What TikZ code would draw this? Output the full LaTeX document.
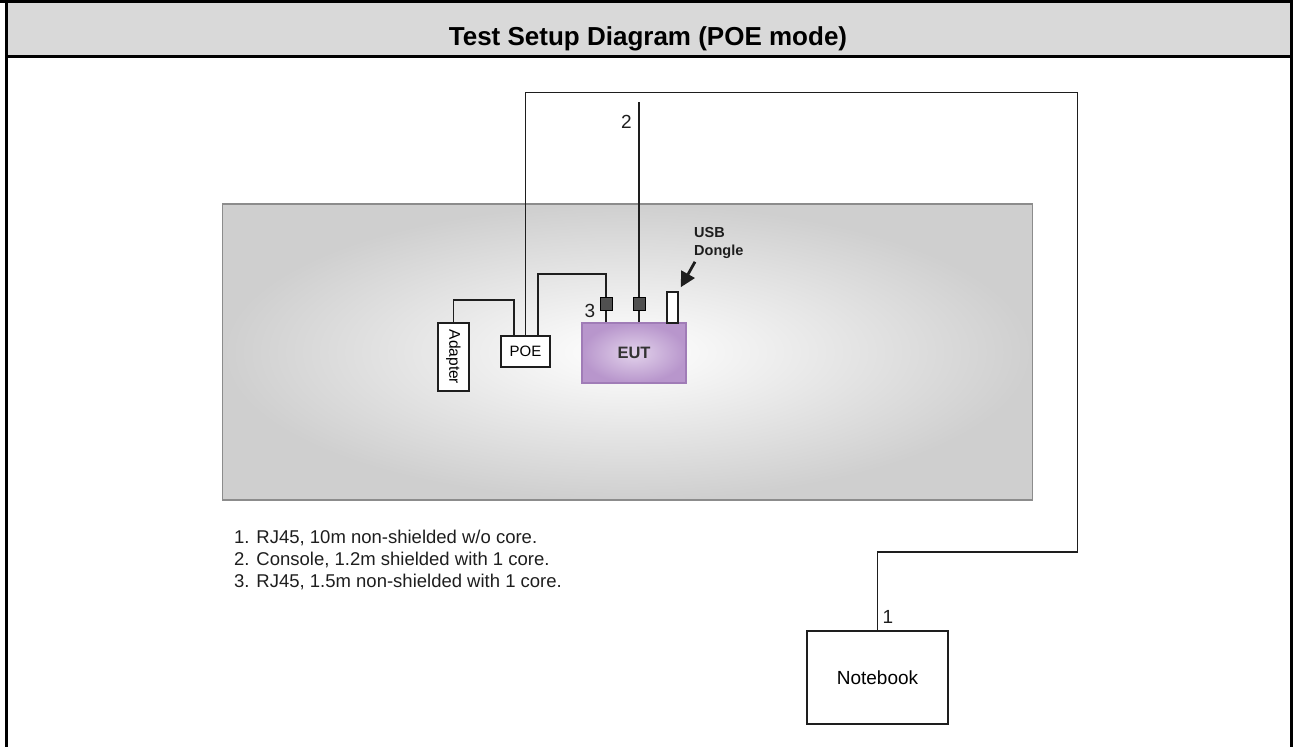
\documentclass[tikz,border=0pt]{standalone}
\usepackage{fontspec}
\setmainfont{Liberation Sans}
\usetikzlibrary{arrows.meta}

\definecolor{bandgray}{HTML}{D9D9D9}
\definecolor{tablegray}{HTML}{CFCFCF}
\definecolor{tableedge}{HTML}{8C8C8C}
\definecolor{eutlight}{HTML}{E2D2EB}
\definecolor{eutdark}{HTML}{B896CC}
\definecolor{eutedge}{HTML}{A07CB7}
\definecolor{euttext}{HTML}{333333}
\definecolor{jackgray}{HTML}{505050}
\definecolor{cablecol}{HTML}{1E1E1E}

\tikzset{
  box/.style={draw=cablecol, line width=1.5bp, fill=white, inner sep=0pt},
  eutbox/.style={draw=eutedge, line width=1.3bp, inner color=eutlight, outer color=eutdark,
    minimum width=104bp, minimum height=60bp, text=euttext,
    font=\fontsize{16.5bp}{16.5bp}\selectfont\bfseries},
  cable/.style={draw=cablecol, line width=1.8bp},
  jack/.style={draw=black, fill=jackgray, line width=1bp, minimum width=12bp,
    minimum height=13bp, inner sep=0pt},
  cablenum/.style={font=\fontsize{19bp}{19bp}\selectfont, text=cablecol, inner sep=0pt},
  pointer/.style={draw=cablecol, line width=2.8bp, -{Triangle[length=15bp,width=15bp]}},
}

\begin{document}
\begin{tikzpicture}[x=1bp,y=-1bp]
  \useasboundingbox (0,0) rectangle (1293,747);
  % Frame
  \fill[bandgray] (6.5,2) rectangle (1291.5,56.5);
  \draw[line width=3.4bp] (0,1.6) -- (1293,1.6);
  \draw[line width=3bp] (6.5,57) -- (1291.5,57);
  \draw[line width=3.4bp] (6.6,0) -- (6.6,747);
  \draw[line width=3.4bp] (1291.5,0) -- (1291.5,747);
  \node[font=\fontsize{26bp}{26bp}\selectfont\bfseries, anchor=base] (title) at (648,45.5) {Test Setup Diagram (POE mode)} ; %

  % Table
  \draw[tableedge, line width=1.5bp, inner color=white, outer color=tablegray] (222.5,204) rectangle (1032.5,500) ; %

  % Nodes
  \node[box, minimum width=31bp, minimum height=68bp] (adapter) at (453.5,357) {\rotatebox{-90}{\fontsize{15.5bp}{15.5bp}\selectfont Adapter}} ; %
  \node[box, minimum width=49bp, minimum height=31bp, font=\fontsize{15bp}{15bp}\selectfont] (poe) at (525.5,351.5) {POE} ; %
  \node[eutbox] (eut) at (634,353) {EUT} ; %
  \node[jack] (jack3) at (606.3,304.3) {} ; %
  \node[jack] (jack2) at (639,304.3) {} ; %
  \node[box, minimum width=11bp, minimum height=31bp] (dongle) at (672.5,307.5) {} ; %
  \node[box, minimum width=141bp, minimum height=93bp, font=\fontsize{19bp}{19bp}\selectfont] (notebook) at (877.5,677.5) {Notebook} ; %
  \node[cablenum] (num1) at (888,617) {1} ; %
  \node[cablenum] (num2) at (626.5,121.5) {2} ; %
  \node[cablenum] (num3) at (590,310.5) {3} ; %
  \node[font=\fontsize{14.5bp}{18bp}\selectfont\bfseries, text=cablecol, align=left, anchor=west, inner sep=0pt] (usb) at (694,243) {USB\\Dongle} ; %
  \node[font=\fontsize{18.5bp}{22bp}\selectfont, text=cablecol, align=left, anchor=north west, inner sep=0pt] (legend) at (234,530)
    {1. RJ45, 10m non-shielded w/o core.\\2. Console, 1.2m shielded with 1 core.\\3. RJ45, 1.5m non-shielded with 1 core.} ; %

  % Cables
  \coordinate (top) at (1077.5,92.5) ; %
  \coordinate (drop) at (1077.5,552) ; %
  \coordinate (cable2end) at (639,102.5) ; %
  \draw[cable] (poe.north) |- (top) -- (drop) -| (notebook.north) ; %
  \draw[cable] (cable2end) -- (jack2.north) ; %
  \draw[cable] (jack2.south) -- (jack2.south |- eut.north) ; %
  \draw[cable] ([xshift=12.5bp]poe.north) -- ++(0,-61) -| (jack3.north) ; %
  \draw[cable] (jack3.south) -- (jack3.south |- eut.north) ; %
  \draw[cable] (adapter.north) -- ++(0,-22.5) -| ([xshift=-11.5bp]poe.north) ; %
  \draw[pointer] ([shift={(1bp,-3bp)}]usb.south west) -- ([shift={(2bp,4bp)}]dongle.north east) ; %
\end{tikzpicture}
\end{document}
